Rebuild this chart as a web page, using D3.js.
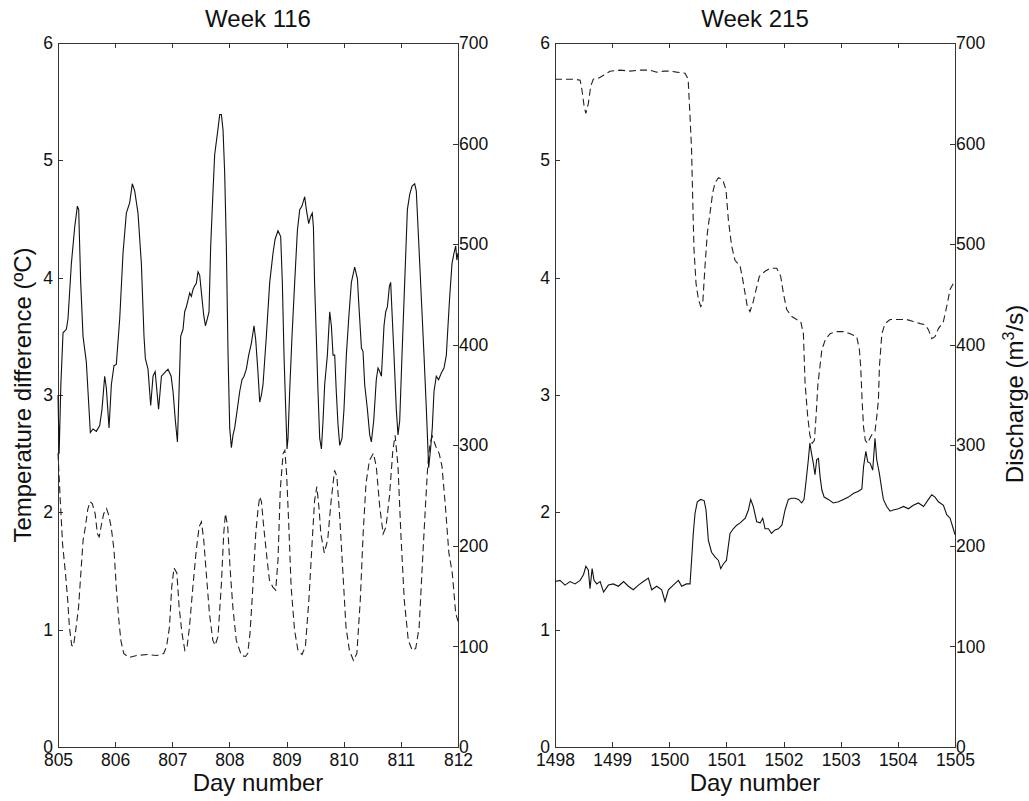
<!DOCTYPE html>
<html>
<head>
<meta charset="utf-8">
<title>Temperature difference and discharge</title>
<style type="text/css">
  body { margin: 0; background: #fff; }
  text { font-family: "Liberation Sans", Arial, sans-serif; fill: #111; }
  .axis path, .axis line { stroke: #333; stroke-width: 1; shape-rendering: crispEdges; }
  .axis text { font-size: 17.5px; }
  .title, .label { font-size: 24px; }
  .temp { fill: none; stroke: #111; stroke-width: 1.1; }
  .flow { fill: none; stroke: #222; stroke-width: 1.1; stroke-dasharray: 7,4; }
</style>
<script src="https://d3js.org/d3.v7.min.js"></script>
</head>
<body>
<div id="chart"></div>
<script>
// ---- week 116 : temperature difference (solid, left axis)
var w116TempDays = [805.0,805.02,805.05,805.088,805.146,805.175,805.234,805.292,805.339,805.362,805.397,805.438,805.496,805.525,805.566,805.613,805.671,805.73,805.77,805.817,805.846,805.893,805.934,805.98,806.02,806.08,806.138,806.196,806.255,806.30,806.342,806.40,806.459,806.505,806.529,806.575,806.622,806.663,806.70,806.76,806.81,806.867,806.925,806.98,807.013,807.054,807.09,807.118,807.147,807.188,807.217,807.246,807.276,807.305,807.334,807.363,807.392,807.42,807.45,807.48,807.51,807.55,807.58,807.614,807.643,807.672,807.713,807.742,807.79,807.83,807.859,807.888,807.917,807.946,807.976,808.005,808.034,808.063,808.092,808.121,808.18,808.22,808.256,808.296,808.337,808.384,808.43,808.46,808.50,808.53,808.56,808.588,808.646,808.705,808.763,808.80,808.85,808.897,808.926,808.955,808.985,809.008,809.025,809.054,809.095,809.142,809.189,809.23,809.27,809.317,809.346,809.387,809.42,809.45,809.47,809.49,809.52,809.55,809.58,809.61,809.638,809.667,809.714,809.755,809.784,809.813,809.842,809.87,809.90,809.93,809.97,810.005,810.046,810.087,810.134,810.192,810.24,810.26,810.31,810.338,810.367,810.414,810.455,810.484,810.525,810.57,810.60,810.63,810.66,810.705,810.735,810.764,810.80,810.822,810.845,810.88,810.92,810.95,810.98,811.02,811.067,811.114,811.155,811.196,811.242,811.27,811.31,811.36,811.405,811.446,811.487,811.52,811.55,811.58,811.62,811.66,811.71,811.755,811.796,811.825,811.855,811.895,811.93,811.96,811.98,812.0];
var w116Temp = [3.00,2.50,3.09,3.53,3.56,3.65,4.12,4.43,4.61,4.58,3.96,3.50,3.28,3.03,2.68,2.71,2.69,2.74,2.88,3.16,3.06,2.72,3.09,3.25,3.26,3.65,4.21,4.55,4.64,4.80,4.74,4.55,4.12,3.50,3.31,3.22,2.91,3.16,3.20,2.88,3.16,3.19,3.22,3.16,3.03,2.78,2.60,3.03,3.50,3.56,3.71,3.75,3.81,3.87,3.84,3.90,3.93,3.95,4.05,4.02,3.87,3.68,3.59,3.65,3.71,4.27,4.74,5.05,5.23,5.39,5.39,5.26,4.89,4.27,3.34,2.72,2.55,2.66,2.72,2.82,3.03,3.13,3.16,3.22,3.34,3.44,3.59,3.47,3.19,2.94,3.00,3.09,3.50,3.96,4.21,4.33,4.40,4.35,3.96,3.34,2.88,2.54,2.63,3.03,3.50,3.96,4.40,4.58,4.61,4.69,4.58,4.46,4.52,4.55,4.43,3.96,3.50,3.03,2.63,2.54,2.78,3.09,3.34,3.71,3.59,3.34,3.34,3.03,2.75,2.57,2.63,2.88,3.34,3.65,3.96,4.09,3.99,3.81,3.40,3.37,3.09,2.88,2.66,2.60,2.78,3.13,3.23,3.20,3.16,3.59,3.71,3.75,3.93,3.96,3.71,3.34,2.88,2.66,2.78,3.34,3.96,4.58,4.71,4.78,4.80,4.74,4.33,3.81,3.34,2.88,2.38,2.54,2.72,3.03,3.16,3.13,3.19,3.23,3.34,3.59,3.84,4.12,4.21,4.27,4.15,4.21];

// ---- week 116 : discharge (dashed, right axis)
var w116FlowDays = [805.0,805.04,805.08,805.13,805.17,805.2,805.24,805.27,805.31,805.36,805.40,805.44,805.48,805.52,805.56,805.60,805.65,805.69,805.72,805.76,805.8,805.85,805.89,805.93,805.98,806.02,806.06,806.1,806.15,806.24,806.38,806.56,806.73,806.85,806.9,806.95,806.99,807.03,807.08,807.12,807.17,807.22,807.26,807.3,807.36,807.42,807.47,807.51,807.55,807.6,807.65,807.71,807.75,807.8,807.86,807.9,807.93,807.97,808.01,808.06,808.12,808.21,808.28,808.32,808.36,808.41,808.46,808.5,808.53,808.56,808.6,808.66,808.7,808.76,808.81,808.85,808.89,808.94,808.97,809.0,809.04,809.08,809.14,809.2,809.27,809.33,809.39,809.45,809.49,809.53,809.57,809.6,809.66,809.72,809.78,809.84,809.88,809.93,809.99,810.04,810.1,810.17,810.23,810.29,810.34,810.39,810.45,810.52,810.57,810.63,810.69,810.74,810.8,810.86,810.9,810.95,811.0,811.06,811.13,811.2,811.26,811.32,811.38,811.43,811.47,811.51,811.55,811.61,811.67,811.72,811.78,811.84,811.9,811.96,812.0];
var w116Flow = [292,245,202,173,146,119,101,100,116,139,173,206,219,236,244,242,232,212,209,221,232,237,230,219,196,159,129,106,93,89,91,92,91,93,100,119,159,178,173,139,113,96,100,119,159,196,219,224,206,169,133,106,101,110,163,212,232,219,179,139,106,91,90,93,113,159,212,236,249,244,219,186,166,159,156,186,256,292,295,272,219,159,116,96,92,100,146,206,245,259,236,212,193,206,245,275,269,229,169,119,96,86,93,146,212,262,285,292,279,239,212,219,249,295,310,279,212,146,106,96,98,119,186,239,279,302,309,299,292,279,239,193,173,133,125];

// ---- week 215 : temperature difference (solid, left axis)
var w215TempDays = [1498.0,1498.088,1498.175,1498.263,1498.35,1498.44,1498.5,1498.54,1498.583,1498.613,1498.65,1498.683,1498.73,1498.79,1498.85,1498.934,1499.02,1499.11,1499.2,1499.284,1499.37,1499.46,1499.546,1499.634,1499.692,1499.78,1499.867,1499.925,1499.984,1500.07,1500.16,1500.217,1500.3,1500.363,1500.39,1500.42,1500.45,1500.49,1500.55,1500.61,1500.643,1500.684,1500.74,1500.8,1500.86,1500.9,1500.946,1501.0,1501.063,1501.12,1501.18,1501.24,1501.33,1501.384,1501.425,1501.47,1501.53,1501.59,1501.635,1501.676,1501.735,1501.79,1501.85,1501.91,1501.97,1502.026,1502.084,1502.142,1502.2,1502.26,1502.317,1502.358,1502.39,1502.434,1502.46,1502.49,1502.52,1502.55,1502.58,1502.61,1502.64,1502.67,1502.71,1502.784,1502.87,1502.96,1503.047,1503.135,1503.22,1503.31,1503.37,1503.4,1503.44,1503.473,1503.514,1503.56,1503.6,1503.63,1503.677,1503.72,1503.747,1503.805,1503.864,1503.92,1504.01,1504.1,1504.185,1504.27,1504.36,1504.45,1504.535,1504.593,1504.65,1504.71,1504.797,1504.855,1504.914,1504.97,1505.0];
var w215Temp = [1.41,1.42,1.38,1.41,1.39,1.42,1.47,1.54,1.51,1.35,1.52,1.42,1.39,1.41,1.32,1.38,1.39,1.37,1.41,1.37,1.34,1.38,1.41,1.44,1.34,1.37,1.34,1.24,1.34,1.38,1.42,1.37,1.39,1.39,1.59,1.82,1.99,2.09,2.11,2.10,2.02,1.76,1.66,1.62,1.59,1.52,1.56,1.59,1.82,1.86,1.89,1.91,1.95,2.02,2.11,2.05,1.92,1.91,1.95,1.86,1.86,1.82,1.85,1.86,1.89,2.02,2.11,2.12,2.12,2.11,2.08,2.11,2.25,2.45,2.59,2.50,2.42,2.32,2.45,2.46,2.30,2.19,2.13,2.11,2.08,2.09,2.11,2.13,2.16,2.18,2.20,2.39,2.52,2.43,2.42,2.36,2.63,2.45,2.33,2.19,2.11,2.05,2.01,2.02,2.03,2.05,2.03,2.06,2.08,2.05,2.11,2.15,2.13,2.09,2.06,1.98,1.95,1.86,1.81];

// ---- week 215 : discharge (dashed, right axis)
var w215FlowDays = [1498.0,1498.2,1498.35,1498.44,1498.47,1498.51,1498.54,1498.584,1498.625,1498.67,1498.76,1498.85,1498.963,1499.138,1499.313,1499.49,1499.663,1499.78,1499.9,1500.013,1500.13,1500.276,1500.33,1500.363,1500.39,1500.41,1500.433,1500.468,1500.51,1500.55,1500.585,1500.625,1500.666,1500.713,1500.76,1500.8,1500.86,1500.935,1500.993,1501.034,1501.092,1501.15,1501.24,1501.285,1501.326,1501.366,1501.413,1501.46,1501.52,1501.576,1501.676,1501.763,1501.88,1501.95,1501.997,1502.055,1502.143,1502.23,1502.3,1502.347,1502.376,1502.42,1502.46,1502.5,1502.54,1502.57,1502.6,1502.64,1502.67,1502.73,1502.814,1502.93,1503.047,1503.165,1503.28,1503.327,1503.35,1503.374,1503.4,1503.43,1503.47,1503.52,1503.56,1503.6,1503.63,1503.66,1503.677,1503.72,1503.776,1503.864,1503.98,1504.155,1504.27,1504.39,1504.475,1504.535,1504.593,1504.65,1504.71,1504.797,1504.855,1504.914,1504.97,1505.0];
var w215Flow = [664,664,664,663,654,637,630,640,657,664,665,668,672,673,672,673,673,671,672,672,671,670,664,627,594,544,494,461,445,438,441,478,511,531,551,561,566,564,554,524,498,484,478,465,451,438,433,441,455,468,473,476,476,468,451,435,428,425,423,411,362,330,310,302,305,330,360,380,395,405,411,413,413,411,408,395,378,345,318,305,302,308,312,314,328,345,378,411,421,425,425,425,423,421,420,415,406,408,416,423,438,455,461,458];

// ---- axis ticks and labels
var tempTicks = [0, 1, 2, 3, 4, 5, 6];
var flowTicks = [0, 100, 200, 300, 400, 500, 600, 700];
var w116DayTicks = [805, 806, 807, 808, 809, 810, 811, 812];
var w215DayTicks = [1498, 1499, 1500, 1501, 1502, 1503, 1504, 1505];

// layout
var width = 1029, height = 801;
var plotTop = 43, plotBottom = 747;

var svg = d3.select("#chart").append("svg")
  .attr("width", width)
  .attr("height", height);

svg.append("rect").attr("width", width).attr("height", height).attr("fill", "#fff");

var panels = [
  { left: 58, right: 458, title: "Week 116", dayTicks: w116DayTicks,
    tDays: w116TempDays, temp: w116Temp, qDays: w116FlowDays, flow: w116Flow },
  { left: 555, right: 955, title: "Week 215", dayTicks: w215DayTicks,
    tDays: w215TempDays, temp: w215Temp, qDays: w215FlowDays, flow: w215Flow }
];

panels.forEach(function(p) {
  var x = d3.scaleLinear()
    .domain(d3.extent(p.dayTicks))
    .range([p.left, p.right]);
  var yT = d3.scaleLinear().domain([0, 6]).range([plotBottom, plotTop]);
  var yQ = d3.scaleLinear().domain([0, 700]).range([plotBottom, plotTop]);

  var g = svg.append("g");

  // box + inward ticks like the original
  g.append("g").attr("class", "axis")
    .attr("transform", "translate(0," + plotBottom + ")")
    .call(d3.axisBottom(x).tickValues(p.dayTicks).tickFormat(d3.format("d"))
      .tickSizeInner(-5).tickSizeOuter(0).tickPadding(7));

  g.append("g").attr("class", "axis")
    .attr("transform", "translate(0," + plotTop + ")")
    .call(d3.axisTop(x).tickValues(p.dayTicks).tickFormat("")
      .tickSizeInner(-5).tickSizeOuter(0));

  g.append("g").attr("class", "axis")
    .attr("transform", "translate(" + p.left + ",0)")
    .call(d3.axisLeft(yT).tickValues(tempTicks).tickFormat(d3.format("d"))
      .tickSizeInner(-5).tickSizeOuter(0).tickPadding(5));

  g.append("g").attr("class", "axis")
    .attr("transform", "translate(" + p.right + ",0)")
    .call(d3.axisRight(yQ).tickValues(flowTicks).tickFormat(d3.format("d"))
      .tickSizeInner(-5).tickSizeOuter(0).tickPadding(1));

  g.selectAll(".axis .tick text").attr("fill", "#111");

  // data
  var tLine = d3.line()
    .x(function(d, i) { return x(p.tDays[i]); })
    .y(function(d) { return yT(d); });
  var qLine = d3.line()
    .x(function(d, i) { return x(p.qDays[i]); })
    .y(function(d) { return yQ(d); });

  g.append("path").datum(p.flow).attr("class", "flow").attr("d", qLine);
  g.append("path").datum(p.temp).attr("class", "temp").attr("d", tLine);

  var cx = (p.left + p.right) / 2;
  g.append("text").attr("class", "title")
    .attr("x", cx).attr("y", 27)
    .attr("text-anchor", "middle")
    .text(p.title);

  g.append("text").attr("class", "label")
    .attr("x", cx).attr("y", 791)
    .attr("text-anchor", "middle")
    .text("Day number");
});

// y labels
svg.append("text").attr("class", "label")
  .attr("transform", "translate(31,395) rotate(-90)")
  .attr("text-anchor", "middle")
  .text("Temperature difference (ºC)");

var dl = svg.append("text").attr("class", "label")
  .attr("transform", "translate(1023,394) rotate(-90)")
  .attr("text-anchor", "middle");
dl.append("tspan").text("Discharge (m");
dl.append("tspan").attr("dy", -9).attr("font-size", "16px").text("3");
dl.append("tspan").attr("dy", 9).text("/s)");
</script>
</body>
</html>
